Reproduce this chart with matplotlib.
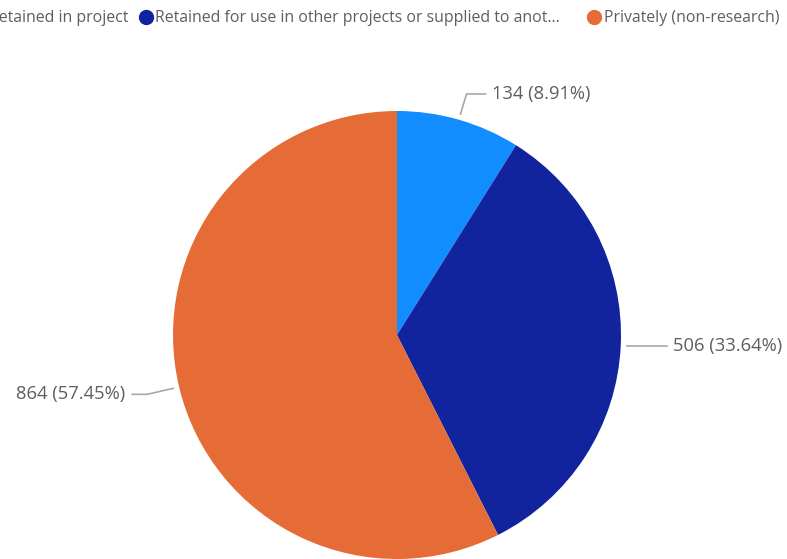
import matplotlib
matplotlib.use("Agg")
import matplotlib.pyplot as plt
import numpy as np

plt.rcParams['font.family'] = ['Open Sans', 'DejaVu Sans']

categories = ["Retained in project",
              "Retained for use in other projects or supplied to anot...",
              "Privately (non-research)"]
values = [134, 506, 864]
colors = ["#118DFF", "#12239E", "#E66C37"]

W, H = 787, 559
fig = plt.figure(figsize=(W / 100, H / 100), dpi=100)

cx, cy, r = 397, 335, 224
ax = fig.add_axes([(cx - r) / W, 1 - (cy + r) / H, 2 * r / W, 2 * r / H])
wedges, _ = ax.pie(values, colors=colors, startangle=90, counterclock=False,
                   radius=1.0, wedgeprops=dict(linewidth=0))
ax.set_xlim(-1, 1)
ax.set_ylim(-1, 1)
ax.set_aspect('equal')
ax.axis('off')

total = sum(values)
text_color = "#605E5C"
line_color = "#A8A8A8"
fs = 13.2
# leader offsets (pixels, y downward) relative to a point just outside the edge
offsets = [((6, -20), (25, -20)), ((20, 0), (40, 0)), ((-26, 6), (-41, 6))]
for w, v, (elbow, end) in zip(wedges, values, offsets):
    ang = np.deg2rad((w.theta1 + w.theta2) / 2)
    ex, ey = np.cos(ang), np.sin(ang)
    px = cx + ex * (r + 6)
    py = cy - ey * (r + 6)
    xs = [px, px + elbow[0], px + end[0]]
    ys = [py, py + elbow[1], py + end[1]]
    fig.add_artist(plt.Line2D([x / W for x in xs], [1 - y / H for y in ys],
                              color=line_color, lw=1.2))
    label = f"{v} ({v / total * 100:.2f}%)"
    if end[0] >= 0:
        fig.text((xs[-1] + 6) / W, 1 - ys[-1] / H, label, ha='left', va='center',
                 color=text_color, fontsize=fs)
    else:
        fig.text((xs[-1] - 7) / W, 1 - ys[-1] / H, label, ha='right', va='center',
                 color=text_color, fontsize=fs)

# legend (clipped at left edge)
ly = 17
lfs = 11.4
leg_items = [(-20, 128, 'right'), (146, 155, 'left'), (594, 604, 'left')]
for (mx, tx, ha), cat, col in zip(leg_items, categories, colors):
    fig.add_artist(plt.Line2D([mx / W], [1 - ly / H], marker='o', markersize=10,
                              color=col, linestyle='none'))
    fig.text(tx / W, 1 - (ly + 1) / H, cat, ha=ha, va='center',
             color=text_color, fontsize=lfs)

fig.savefig("out.png", dpi=100)
